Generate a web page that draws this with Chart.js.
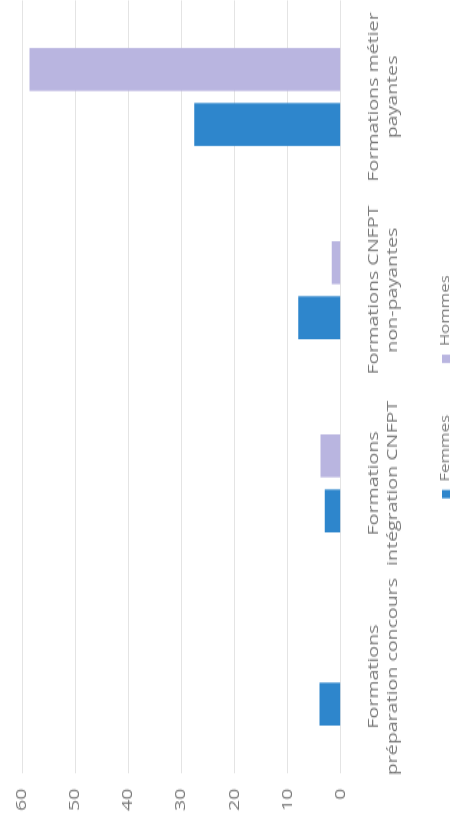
<!DOCTYPE html>
<html>
<head>
<meta charset="utf-8">
<script src="https://cdn.jsdelivr.net/npm/chart.js@4/dist/chart.umd.min.js"></script>
<style>
    html, body { margin: 0; padding: 0; background: #ffffff; overflow: hidden; }
    body { width: 451px; height: 818px; position: relative; }
    /* the scan is turned a quarter turn, so the chart is drawn upright and rotated */
    #chartBox {
        position: absolute; left: 0; top: 0;
        width: 584px; height: 451px;
        transform-origin: 0 0;
        transform: translate(0px, 818px) rotate(-90deg) scale(1.4, 1);
    }
</style>
</head>
<body>
<div id="chartBox"><canvas id="chartBar"></canvas></div>
<script>
var categories = [
    ["Formations", "préparation concours"],
    ["Formations", "intégration CNFPT"],
    ["Formations CNFPT", "non-payantes"],
    ["Formations métier", "payantes"]
];
var femmes = [4, 3, 8, 27.6];
var hommes = [0, 3.8, 1.7, 58.6];
var yTicks = [0, 10, 20, 30, 40, 50, 60];

function drawChart() {
    "use strict";

    var textColor = '#797979';
    var ctx = document.getElementById('chartBar').getContext('2d');

    var chart = new Chart(ctx, {
        type: 'bar',
        data: {
            labels: categories,
            datasets: [{
                label: "Femmes",
                backgroundColor: "#2e86cc",
                data: femmes,
                categoryPercentage: 0.57,
                barPercentage: 0.78
            }, {
                label: "Hommes",
                backgroundColor: "#b9b5e0",
                data: hommes,
                categoryPercentage: 0.57,
                barPercentage: 0.78
            }]
        },
        options: {
            responsive: true,
            maintainAspectRatio: false,
            animation: false,
            layout: {
                padding: { top: 22, left: 5, right: 0, bottom: -11 }
            },
            plugins: {
                tooltip: { enabled: false },
                legend: {
                    position: 'bottom',
                    fullSize: false,
                    labels: {
                        color: textColor,
                        font: { family: 'Open Sans', size: 12 },
                        boxWidth: 6,
                        boxHeight: 8,
                        padding: 37
                    }
                }
            },
            scales: {
                x: {
                    grid: { display: false, drawTicks: true, tickLength: 23 },
                    border: { display: false },
                    ticks: {
                        color: textColor,
                        font: { family: 'Open Sans', size: 14, lineHeight: 1.4 },
                        padding: 0,
                        maxRotation: 0,
                        autoSkip: false
                    },
                    // long labels must not push the bars inwards
                    afterFit: function (scale) {
                        scale.paddingLeft = 0;
                        scale.paddingRight = 0;
                    }
                },
                y: {
                    min: 0,
                    max: 60,
                    afterBuildTicks: function (scale) {
                        scale.ticks = yTicks.map(function (v) { return { value: v }; });
                    },
                    afterFit: function (scale) {
                        scale.width -= 11;
                    },
                    grid: { color: '#e4e4e4', drawTicks: false },
                    border: { display: false },
                    ticks: {
                        color: textColor,
                        font: { family: 'Open Sans', size: 14 },
                        padding: 11
                    }
                }
            }
        }
    });
}

drawChart();
</script>
</body>
</html>
